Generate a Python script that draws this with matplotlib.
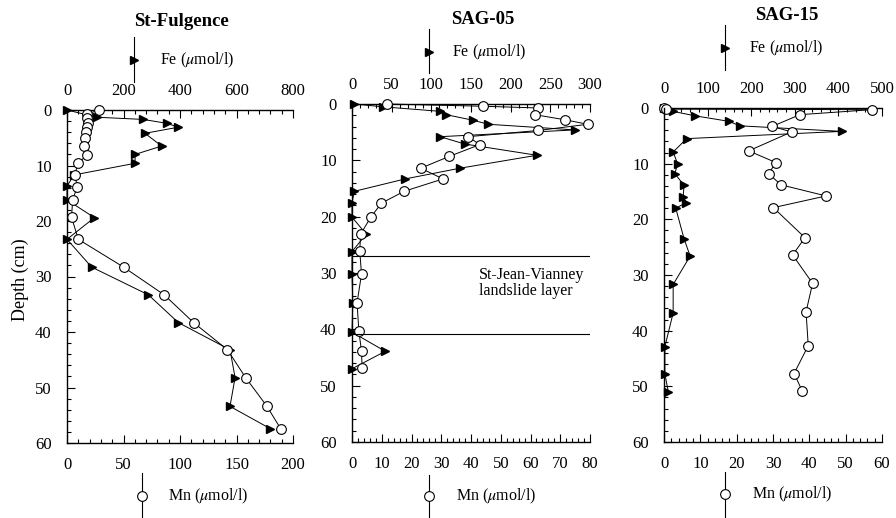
import matplotlib
matplotlib.use("Agg")
import matplotlib.pyplot as plt
from matplotlib.lines import Line2D
from matplotlib.ticker import MultipleLocator

plt.rcParams['font.family'] = ['Liberation Serif', 'DejaVu Serif']
plt.rcParams['mathtext.fontset'] = 'stix'

# St-Fulgence
sf_fe_depth = [0, 1.3, 1.7, 2.4, 3.1, 4.2, 6.5, 8.0, 9.6, 11.7, 13.7, 16.2, 19.4, 23.3, 28.3, 33.3, 38.3, 43.2, 48.2, 53.4, 57.4]
sf_fe = [0, 105, 270, 353, 394, 276, 335, 241, 241, 25, 0, 0, 97, 0, 87, 288, 394, 577, 595, 577, 719]
sf_mn_depth = [0, 0.7, 1.5, 2.3, 3.0, 3.9, 5.0, 6.5, 8.1, 9.6, 11.7, 13.8, 16.3, 19.3, 23.3, 28.3, 33.3, 38.3, 43.2, 48.2, 53.4, 57.4]
sf_mn = [28.6, 18, 18, 18.5, 18, 17, 16, 15, 18, 9.5, 7, 9, 5, 4, 10, 50, 86, 112, 142, 158, 177, 189]

# SAG-05
s05_fe_depth = [0, 0.5, 1.3, 1.9, 2.9, 3.6, 4.6, 5.8, 7.1, 9.1, 11.4, 13.3, 15.5, 17.5, 20.1, 23.1, 26.2, 30.2, 35.4, 40.5, 43.9, 47.0]
s05_fe = [3, 39, 111, 119, 153, 172, 281, 111, 142, 233, 136, 67, 3, 0, 0, 18, 0, 0, 1, 0, 42, 0]
s05_mn_depth = [0, 0.4, 0.7, 1.9, 2.8, 3.6, 4.7, 5.8, 7.2, 9.3, 11.4, 13.3, 15.5, 17.6, 20.1, 23.1, 26.1, 30.2, 35.3, 40.3, 43.9, 46.9]
s05_mn = [11.9, 44.1, 62.4, 61.5, 71.6, 79.2, 62.6, 39, 43, 32.7, 23.1, 30.6, 17.5, 9.9, 6.3, 2.9, 2.6, 3.2, 1.7, 2.3, 3.2, 3.4]
layer_top = 27.0
layer_bottom = 40.8

# SAG-15
s15_fe_depth = [0, 0.6, 1.4, 2.4, 3.2, 4.2, 5.5, 7.9, 10.0, 11.8, 13.9, 15.9, 17.0, 18.0, 23.5, 26.6, 31.7, 36.8, 42.9, 47.8, 51.0]
s15_fe = [0, 20, 71, 149, 174, 408, 52, 21, 31, 25, 46, 44, 51, 27, 46, 60, 21, 21, 2, 2, 10]
s15_mn_depth = [0, 0.2, 0.3, 1.2, 3.3, 4.3, 7.7, 9.8, 11.8, 13.8, 15.8, 17.9, 23.3, 26.4, 31.5, 36.6, 42.7, 47.7, 50.9]
s15_mn = [0, 0.6, 57.2, 37.4, 29.8, 35.1, 23.3, 30.8, 28.8, 32.2, 44.6, 30.1, 38.8, 35.4, 40.9, 39.1, 39.7, 35.8, 38.1]

W, H = 896, 518
fig = plt.figure(figsize=(W / 100, H / 100), dpi=100)


def px(x, y):
    return x / W, 1 - y / H


def panel(l, r, t, b, fe_d, fe, mn_d, mn, fe_max, fe_major, fe_minor, mn_max, mn_major, mn_minor):
    ax = fig.add_axes([l / W, 1 - b / H, (r - l) / W, (b - t) / H])
    axt = ax.twiny()
    ax.set_zorder(axt.get_zorder() + 1)
    ax.patch.set_visible(False)

    axt.plot(fe, fe_d, color='black', lw=0.7, marker='>', ms=6, mfc='black', clip_on=False)
    ax.plot(mn, mn_d, color='black', lw=0.7, marker='o', ms=7, mfc='white', mew=0.8, clip_on=False)

    ax.set_ylim(60, 0)
    ax.set_xlim(0, mn_max)
    axt.set_xlim(0, fe_max)
    ax.yaxis.set_major_locator(MultipleLocator(10))
    ax.yaxis.set_minor_locator(MultipleLocator(2))
    ax.xaxis.set_major_locator(MultipleLocator(mn_major))
    ax.xaxis.set_minor_locator(MultipleLocator(mn_minor))
    axt.xaxis.set_major_locator(MultipleLocator(fe_major))
    axt.xaxis.set_minor_locator(MultipleLocator(fe_minor))

    for a in (ax, axt):
        for s in a.spines.values():
            s.set_visible(False)
    ax.spines['left'].set_visible(True)
    ax.spines['bottom'].set_visible(True)
    axt.spines['top'].set_visible(True)
    for s in (ax.spines['left'], ax.spines['bottom'], axt.spines['top']):
        s.set_linewidth(1.0)

    ax.tick_params(which='both', direction='in', labelsize=12, width=0.8)
    ax.tick_params(which='major', length=6)
    ax.tick_params(which='minor', length=3)
    ax.tick_params(axis='y', which='major', pad=11)
    ax.tick_params(axis='x', which='major', pad=10)
    axt.tick_params(which='both', direction='in', labelsize=12, width=0.8)
    axt.tick_params(which='major', length=6, pad=8)
    axt.tick_params(which='minor', length=3)
    return ax, axt


ax1, _ = panel(67, 293, 110, 443, sf_fe_depth, sf_fe, sf_mn_depth, sf_mn,
               800, 200, 40, 200, 50, 10)
fig.text(*px(20, 280), 'Depth (cm)', fontsize=13, rotation=90, ha='center', va='center')

ax2, _ = panel(352, 590, 104, 442, s05_fe_depth, s05_fe, s05_mn_depth, s05_mn,
               300, 50, 10, 80, 10, 2)
ax2.axhline(layer_top, color='black', lw=0.8)
ax2.axhline(layer_bottom, color='black', lw=0.8)
ax2.text(42.6, 31.8, 'St-Jean-Vianney\nlandslide layer', fontsize=11.5,
         ha='left', va='center', linespacing=1.0)

ax3, _ = panel(664, 882, 108, 442, s15_fe_depth, s15_fe, s15_mn_depth, s15_mn,
               500, 100, 20, 60, 10, 2)

# titles and legend keys
titles = [('St-Fulgence', 181, 22), ('SAG-05', 483, 20), ('SAG-15', 787, 16)]
for name, x, y in titles:
    fig.text(*px(x, y), name, fontsize=13.5, fontweight='bold', ha='center', va='center')

fe_keys = [(134, 37, 82, 60, 160), (429, 29, 73, 52, 452), (725, 25, 70, 48, 749)]
for x, y0, y1, ym, tx in fe_keys:
    fig.add_artist(Line2D([x / W, x / W], [1 - y0 / H, 1 - y1 / H], color='black', lw=0.8,
                          transform=fig.transFigure))
    fig.add_artist(Line2D([x / W], [1 - ym / H], marker='>', ms=6, color='black',
                          transform=fig.transFigure))
    fig.text(*px(tx, ym), 'Fe ($\\mu$mol/l)', fontsize=11.5, ha='left', va='center')

mn_keys = [(142, 473, 518, 496, 168), (429, 475, 518, 496, 456), (725, 472, 518, 494, 752)]
for x, y0, y1, ym, tx in mn_keys:
    fig.add_artist(Line2D([x / W, x / W], [1 - y0 / H, 1 - y1 / H], color='black', lw=0.8,
                          transform=fig.transFigure))
    fig.add_artist(Line2D([x / W], [1 - ym / H], marker='o', ms=7, color='black', mfc='white',
                          mew=0.8, transform=fig.transFigure))
    fig.text(*px(tx, ym), 'Mn ($\\mu$mol/l)', fontsize=11.5, ha='left', va='center')

fig.savefig('out.png', dpi=100)
